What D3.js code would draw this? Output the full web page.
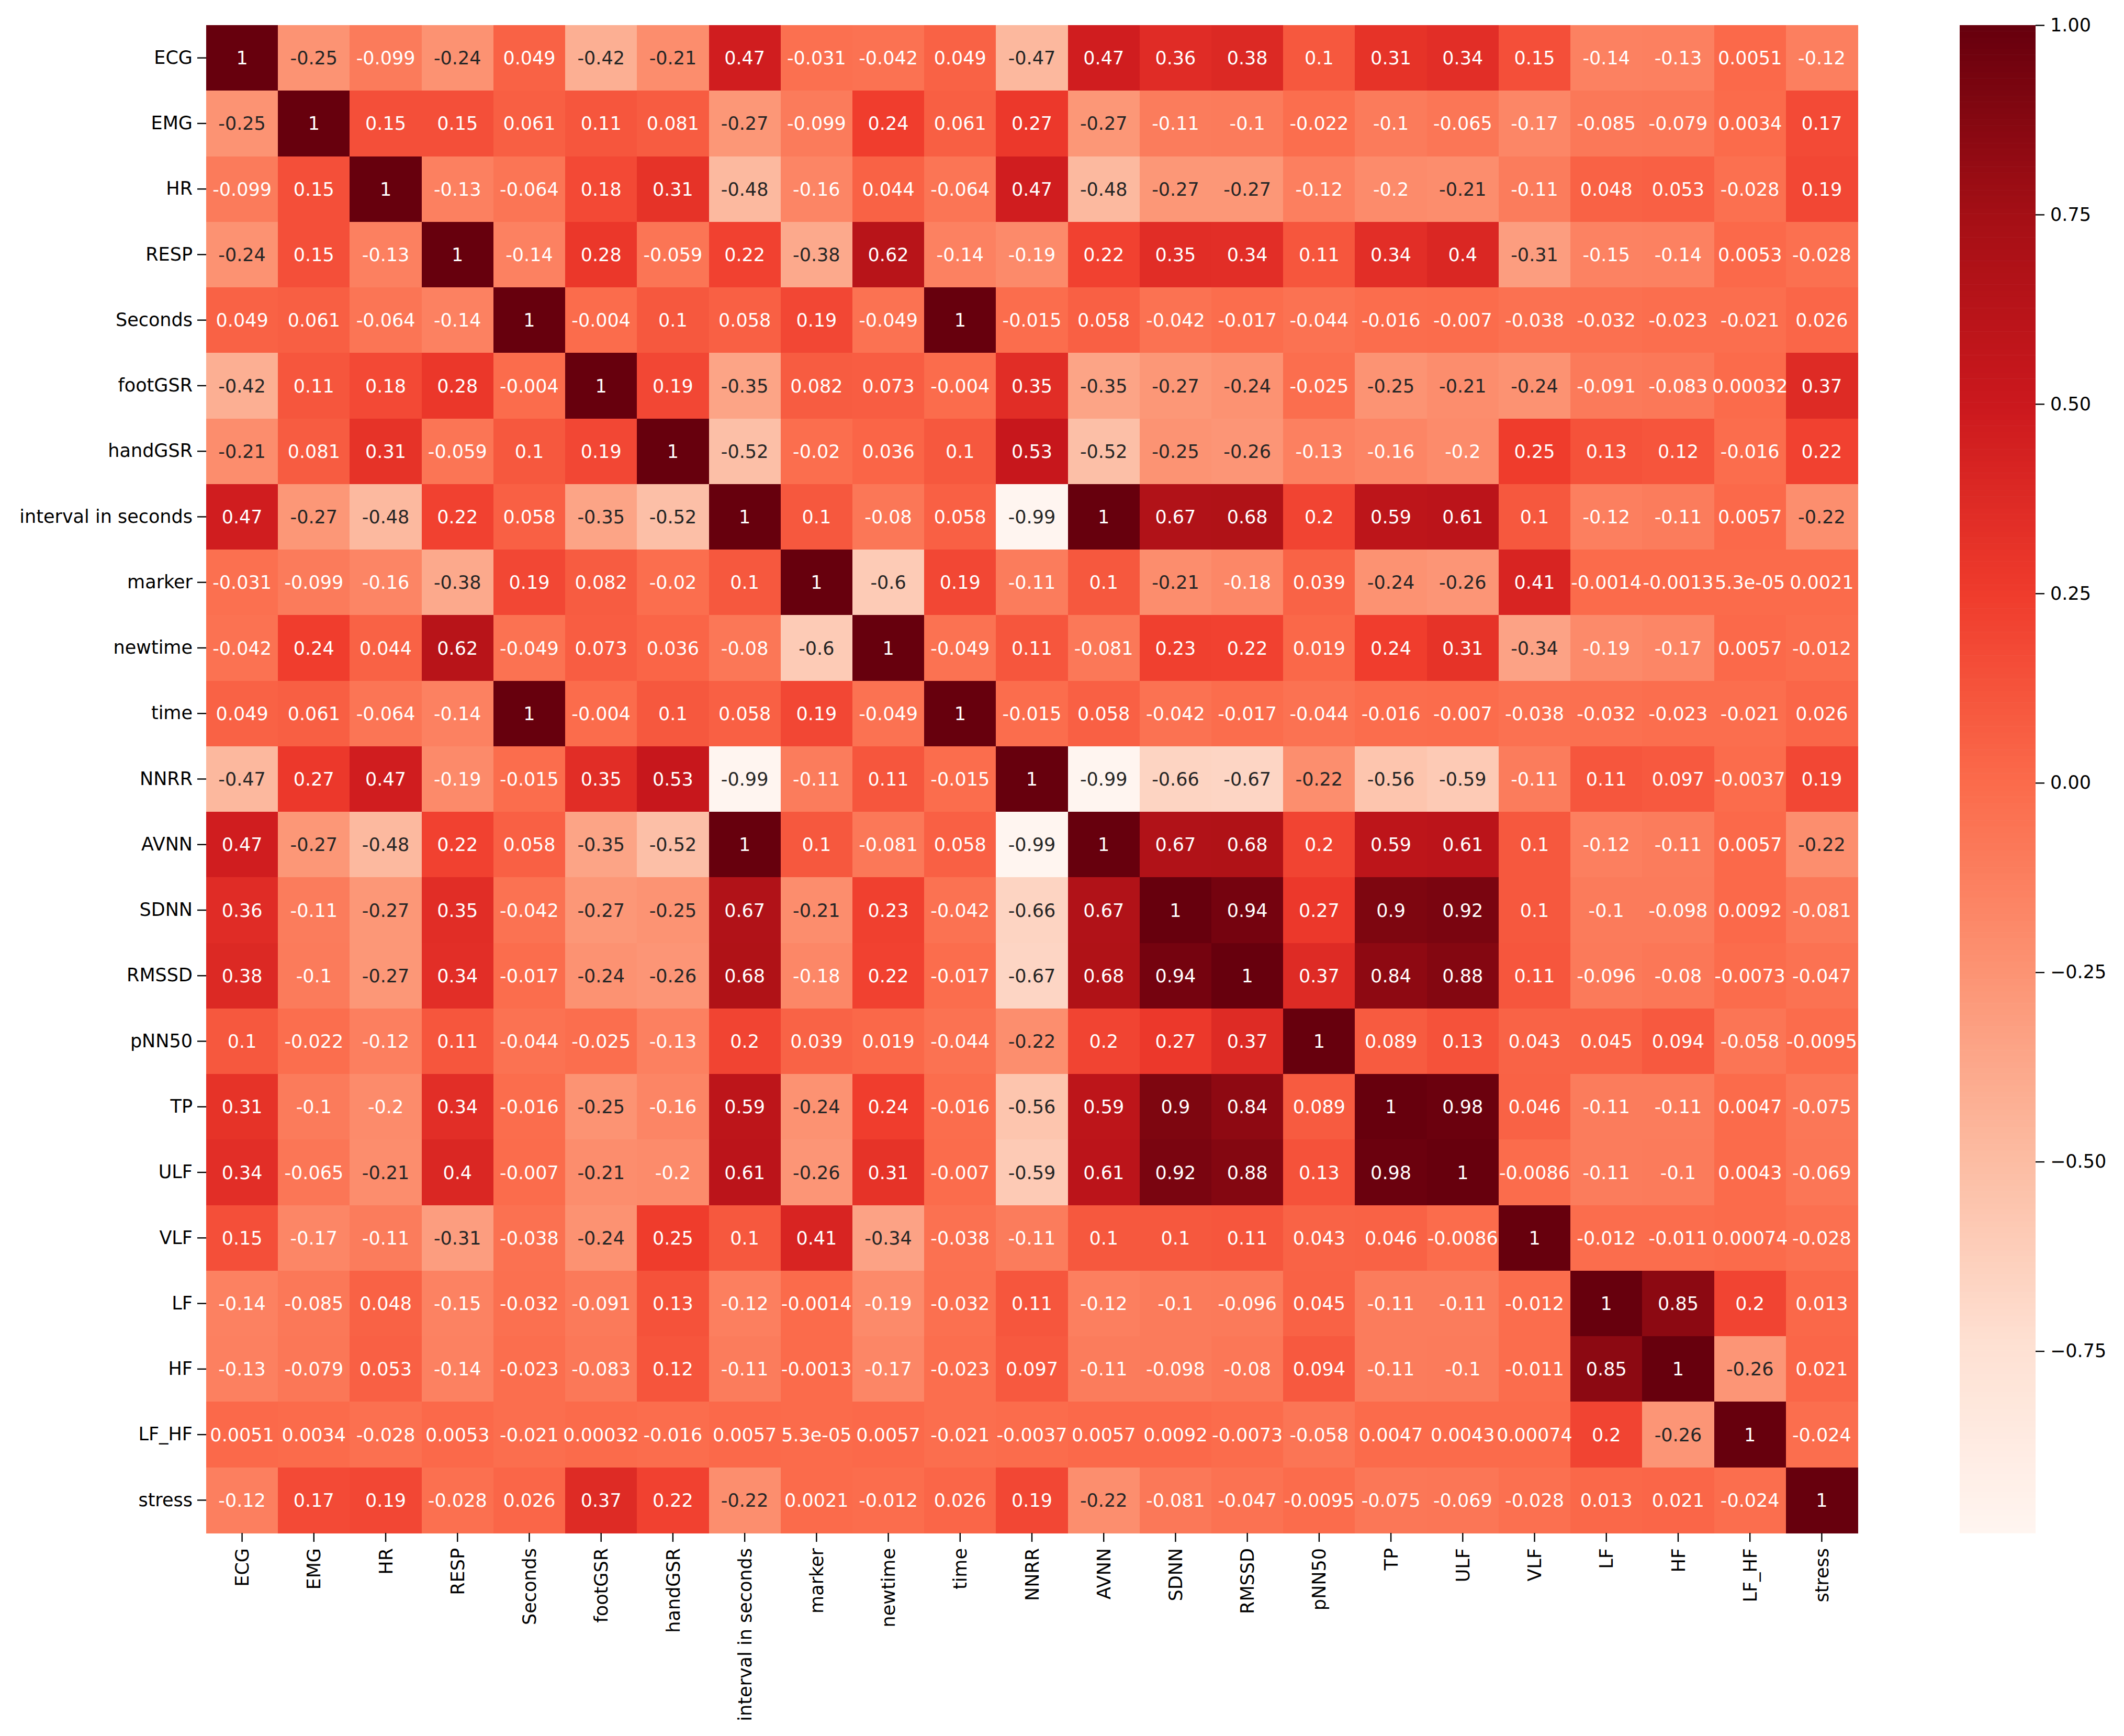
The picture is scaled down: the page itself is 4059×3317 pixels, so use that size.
<!DOCTYPE html>
<meta charset='utf-8'>
<html>
  <head>
    <script src="https://d3js.org/d3.v7.min.js"></script>
    <style>
      body { margin: 0; background: #ffffff; }
      text { font-family: "DejaVu Sans", sans-serif; }
    </style>
  </head>
  <body>
    <div id="chart"></div>
    <script>
        // variable names (rows and columns, same order)
        var labels = ["ECG", "EMG", "HR", "RESP", "Seconds", "footGSR", "handGSR", "interval in seconds",
            "marker", "newtime", "time", "NNRR", "AVNN", "SDNN", "RMSSD", "pNN50", "TP", "ULF", "VLF",
            "LF", "HF", "LF_HF", "stress"]

        // correlation rows
        var ECG = [1, -0.25, -0.099, -0.24, 0.049, -0.42, -0.21, 0.47, -0.031, -0.042, 0.049, -0.47, 0.47, 0.36, 0.38, 0.1, 0.31, 0.34, 0.15, -0.14, -0.13, 0.0051, -0.12]
        var EMG = [-0.25, 1, 0.15, 0.15, 0.061, 0.11, 0.081, -0.27, -0.099, 0.24, 0.061, 0.27, -0.27, -0.11, -0.1, -0.022, -0.1, -0.065, -0.17, -0.085, -0.079, 0.0034, 0.17]
        var HR = [-0.099, 0.15, 1, -0.13, -0.064, 0.18, 0.31, -0.48, -0.16, 0.044, -0.064, 0.47, -0.48, -0.27, -0.27, -0.12, -0.2, -0.21, -0.11, 0.048, 0.053, -0.028, 0.19]
        var RESP = [-0.24, 0.15, -0.13, 1, -0.14, 0.28, -0.059, 0.22, -0.38, 0.62, -0.14, -0.19, 0.22, 0.35, 0.34, 0.11, 0.34, 0.4, -0.31, -0.15, -0.14, 0.0053, -0.028]
        var Seconds = [0.049, 0.061, -0.064, -0.14, 1, -0.004, 0.1, 0.058, 0.19, -0.049, 1, -0.015, 0.058, -0.042, -0.017, -0.044, -0.016, -0.007, -0.038, -0.032, -0.023, -0.021, 0.026]
        var footGSR = [-0.42, 0.11, 0.18, 0.28, -0.004, 1, 0.19, -0.35, 0.082, 0.073, -0.004, 0.35, -0.35, -0.27, -0.24, -0.025, -0.25, -0.21, -0.24, -0.091, -0.083, 0.00032, 0.37]
        var handGSR = [-0.21, 0.081, 0.31, -0.059, 0.1, 0.19, 1, -0.52, -0.02, 0.036, 0.1, 0.53, -0.52, -0.25, -0.26, -0.13, -0.16, -0.2, 0.25, 0.13, 0.12, -0.016, 0.22]
        var intervalInSeconds = [0.47, -0.27, -0.48, 0.22, 0.058, -0.35, -0.52, 1, 0.1, -0.08, 0.058, -0.99, 1, 0.67, 0.68, 0.2, 0.59, 0.61, 0.1, -0.12, -0.11, 0.0057, -0.22]
        var marker = [-0.031, -0.099, -0.16, -0.38, 0.19, 0.082, -0.02, 0.1, 1, -0.6, 0.19, -0.11, 0.1, -0.21, -0.18, 0.039, -0.24, -0.26, 0.41, -0.0014, -0.0013, 5.3e-05, 0.0021]
        var newtime = [-0.042, 0.24, 0.044, 0.62, -0.049, 0.073, 0.036, -0.08, -0.6, 1, -0.049, 0.11, -0.081, 0.23, 0.22, 0.019, 0.24, 0.31, -0.34, -0.19, -0.17, 0.0057, -0.012]
        var timeRow = [0.049, 0.061, -0.064, -0.14, 1, -0.004, 0.1, 0.058, 0.19, -0.049, 1, -0.015, 0.058, -0.042, -0.017, -0.044, -0.016, -0.007, -0.038, -0.032, -0.023, -0.021, 0.026]
        var NNRR = [-0.47, 0.27, 0.47, -0.19, -0.015, 0.35, 0.53, -0.99, -0.11, 0.11, -0.015, 1, -0.99, -0.66, -0.67, -0.22, -0.56, -0.59, -0.11, 0.11, 0.097, -0.0037, 0.19]
        var AVNN = [0.47, -0.27, -0.48, 0.22, 0.058, -0.35, -0.52, 1, 0.1, -0.081, 0.058, -0.99, 1, 0.67, 0.68, 0.2, 0.59, 0.61, 0.1, -0.12, -0.11, 0.0057, -0.22]
        var SDNN = [0.36, -0.11, -0.27, 0.35, -0.042, -0.27, -0.25, 0.67, -0.21, 0.23, -0.042, -0.66, 0.67, 1, 0.94, 0.27, 0.9, 0.92, 0.1, -0.1, -0.098, 0.0092, -0.081]
        var RMSSD = [0.38, -0.1, -0.27, 0.34, -0.017, -0.24, -0.26, 0.68, -0.18, 0.22, -0.017, -0.67, 0.68, 0.94, 1, 0.37, 0.84, 0.88, 0.11, -0.096, -0.08, -0.0073, -0.047]
        var pNN50 = [0.1, -0.022, -0.12, 0.11, -0.044, -0.025, -0.13, 0.2, 0.039, 0.019, -0.044, -0.22, 0.2, 0.27, 0.37, 1, 0.089, 0.13, 0.043, 0.045, 0.094, -0.058, -0.0095]
        var TP = [0.31, -0.1, -0.2, 0.34, -0.016, -0.25, -0.16, 0.59, -0.24, 0.24, -0.016, -0.56, 0.59, 0.9, 0.84, 0.089, 1, 0.98, 0.046, -0.11, -0.11, 0.0047, -0.075]
        var ULF = [0.34, -0.065, -0.21, 0.4, -0.007, -0.21, -0.2, 0.61, -0.26, 0.31, -0.007, -0.59, 0.61, 0.92, 0.88, 0.13, 0.98, 1, -0.0086, -0.11, -0.1, 0.0043, -0.069]
        var VLF = [0.15, -0.17, -0.11, -0.31, -0.038, -0.24, 0.25, 0.1, 0.41, -0.34, -0.038, -0.11, 0.1, 0.1, 0.11, 0.043, 0.046, -0.0086, 1, -0.012, -0.011, 0.00074, -0.028]
        var LF = [-0.14, -0.085, 0.048, -0.15, -0.032, -0.091, 0.13, -0.12, -0.0014, -0.19, -0.032, 0.11, -0.12, -0.1, -0.096, 0.045, -0.11, -0.11, -0.012, 1, 0.85, 0.2, 0.013]
        var HF = [-0.13, -0.079, 0.053, -0.14, -0.023, -0.083, 0.12, -0.11, -0.0013, -0.17, -0.023, 0.097, -0.11, -0.098, -0.08, 0.094, -0.11, -0.1, -0.011, 0.85, 1, -0.26, 0.021]
        var LF_HF = [0.0051, 0.0034, -0.028, 0.0053, -0.021, 0.00032, -0.016, 0.0057, 5.3e-05, 0.0057, -0.021, -0.0037, 0.0057, 0.0092, -0.0073, -0.058, 0.0047, 0.0043, 0.00074, 0.2, -0.26, 1, -0.024]
        var stress = [-0.12, 0.17, 0.19, -0.028, 0.026, 0.37, 0.22, -0.22, 0.0021, -0.012, 0.026, 0.19, -0.22, -0.081, -0.047, -0.0095, -0.075, -0.069, -0.028, 0.013, 0.021, -0.024, 1]

        var rows = [ECG, EMG, HR, RESP, Seconds, footGSR, handGSR, intervalInSeconds, marker, newtime, timeRow,
            NNRR, AVNN, SDNN, RMSSD, pNN50, TP, ULF, VLF, LF, HF, LF_HF, stress]

        // colorbar ticks
        var cbarTicks = [1.00, 0.75, 0.50, 0.25, 0.00, -0.25, -0.50, -0.75]

        // matplotlib "Reds" anchor colours
        var redsColors = ["#fff5f0", "#fee0d2", "#fcbba1", "#fc9272", "#fb6a4a", "#ef3b2c", "#cb181d", "#a50f15", "#67000d"]

        // flatten into cells
        var cells = []
        rows.forEach(function (r, i) {
            r.forEach(function (v, j) { cells.push({ row: labels[i], col: labels[j], v: v }) })
        })

        var W = 4059, H = 3317
        var mLeft = 394, mRight = 3550, mTop = 48, mBottom = 2929
        var cbLeft = 3745, cbRight = 3890
        var fontSize = "35px"

        var vmin = d3.min(cells, function (d) { return d.v })
        var vmax = d3.max(cells, function (d) { return d.v })

        // Scales
        var xScale = d3.scaleBand().domain(labels).range([mLeft, mRight])
        var yScale = d3.scaleBand().domain(labels).range([mTop, mBottom])
        var norm = d3.scaleLinear().domain([vmin, vmax]).range([0, 1]).clamp(true)
        var reds = d3.scaleLinear()
            .domain(d3.range(redsColors.length).map(function (i) { return i / (redsColors.length - 1) }))
            .range(redsColors)
            .interpolate(d3.interpolateRgb)
        function color(v) {
            // 256-step lookup table like matplotlib
            var k = Math.min(255, Math.floor(norm(v) * 256))
            return reds(k / 255)
        }

        // seaborn picks the annotation colour from the cell luminance
        function lum(c) {
            var rgb = d3.rgb(c)
            var ch = [rgb.r, rgb.g, rgb.b].map(function (x) {
                x = x / 255
                return x <= 0.03928 ? x / 12.92 : Math.pow((x + 0.055) / 1.055, 2.4)
            })
            return 0.2126 * ch[0] + 0.7152 * ch[1] + 0.0722 * ch[2]
        }

        // python-style ".2g"
        function fmt(v) {
            if (v === 0) return "0"
            var e = Math.floor(Math.log10(Math.abs(v)))
            var s
            if (e < -4) {
                s = v.toExponential(1)
                var parts = s.split("e")
                var m = parts[0].replace(/\.0$/, "")
                var ex = parseInt(parts[1], 10)
                s = m + "e" + (ex < 0 ? "-" : "+") + (Math.abs(ex) < 10 ? "0" : "") + Math.abs(ex)
            } else {
                s = v.toPrecision(2)
                if (s.indexOf(".") >= 0) s = s.replace(/0+$/, "").replace(/\.$/, "")
            }
            return s
        }

        var svg = d3.select("#chart").append("svg")
            .attr("width", W)
            .attr("height", H)

        svg.append("rect").attr("width", W).attr("height", H).attr("fill", "#ffffff")

        // heatmap cells
        svg.append("g").selectAll("rect")
            .data(cells)
            .enter()
            .append("rect")
            .attr("x", function (d) { return xScale(d.col) })
            .attr("y", function (d) { return yScale(d.row) })
            .attr("width", xScale.bandwidth() + 0.5)
            .attr("height", yScale.bandwidth() + 0.5)
            .attr("fill", function (d) { return color(d.v) })
            .attr("shape-rendering", "crispEdges")

        // annotations
        svg.append("g").selectAll("text")
            .data(cells)
            .enter()
            .append("text")
            .attr("x", function (d) { return xScale(d.col) + xScale.bandwidth() / 2 })
            .attr("y", function (d) { return yScale(d.row) + yScale.bandwidth() / 2 })
            .attr("dy", "0.36em")
            .attr("text-anchor", "middle")
            .style("font-size", fontSize)
            .style("fill", function (d) { return lum(color(d.v)) > 0.408 ? "#262626" : "#ffffff" })
            .text(function (d) { return fmt(d.v) })

        // y axis
        var yAxis = d3.axisLeft(yScale).tickSize(17).tickPadding(9)
        var gy = svg.append("g")
            .attr("transform", "translate(" + mLeft + ",0)")
            .call(yAxis)
        gy.select(".domain").remove()
        gy.selectAll("line").attr("stroke", "#000").attr("stroke-width", 2.4)
        gy.selectAll("text").style("font-size", fontSize).style("fill", "#000")
            .style("font-family", "'DejaVu Sans', sans-serif")

        // x axis
        var xAxis = d3.axisBottom(xScale).tickSize(17).tickPadding(9)
        var gx = svg.append("g")
            .attr("transform", "translate(0," + mBottom + ")")
            .call(xAxis)
        gx.select(".domain").remove()
        gx.selectAll("line").attr("stroke", "#000").attr("stroke-width", 2.4)
        gx.selectAll("text")
            .attr("transform", "rotate(-90)")
            .attr("x", -(17 + 12))
            .attr("y", 0)
            .attr("dy", "0.36em")
            .style("text-anchor", "end")
            .style("font-size", fontSize)
            .style("fill", "#000")
            .style("font-family", "'DejaVu Sans', sans-serif")

        // colorbar
        var cbScale = d3.scaleLinear().domain([vmin, vmax]).range([mBottom, mTop])
        var steps = d3.range(256)
        var stepH = (mBottom - mTop) / 256
        svg.append("g").selectAll("rect")
            .data(steps)
            .enter()
            .append("rect")
            .attr("x", cbLeft)
            .attr("y", function (k) { return mBottom - (k + 1) * stepH })
            .attr("width", cbRight - cbLeft)
            .attr("height", stepH + 0.6)
            .attr("fill", function (k) { return reds(k / 255) })

        var cbAxis = d3.axisRight(cbScale)
            .tickValues(cbarTicks)
            .tickFormat(d3.format(".2f"))
            .tickSize(17)
            .tickPadding(11)
        var gc = svg.append("g")
            .attr("transform", "translate(" + cbRight + ",0)")
            .call(cbAxis)
        gc.select(".domain").remove()
        gc.selectAll("line").attr("stroke", "#000").attr("stroke-width", 2.4)
        gc.selectAll("text").style("font-size", fontSize).style("fill", "#000")
            .style("font-family", "'DejaVu Sans', sans-serif")
    </script>
  </body>
</html>
